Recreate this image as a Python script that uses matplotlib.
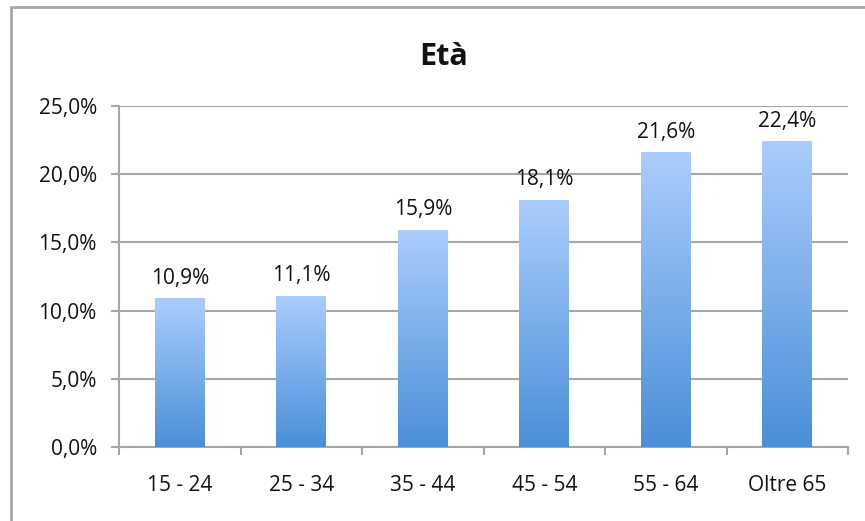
import matplotlib
matplotlib.use("Agg")
import matplotlib.pyplot as plt
import numpy as np
from matplotlib.patches import Rectangle
from matplotlib.colors import LinearSegmentedColormap

categories = ["15 - 24", "25 - 34", "35 - 44", "45 - 54", "55 - 64", "Oltre 65"]
values = [10.9, 11.1, 15.9, 18.1, 21.6, 22.4]
yticks = [0, 5, 10, 15, 20, 25]
title = "Età"

plt.rcParams['font.family'] = ['Open Sans', 'DejaVu Sans']

W, H = 865, 521
fig = plt.figure(figsize=(W/100, H/100), dpi=100)
ax = fig.add_axes([119/W, 1-447/H, (848-119)/W, (447-106)/H])

grid_c = '#a6a6a6'
txt_c = '#111111'
fs = 15
x = np.arange(len(categories))
bars = ax.bar(x, values, width=0.41, color='none', zorder=3)
cmap = LinearSegmentedColormap.from_list('g', ['#4a8fd8', '#abcdfd'])
grad = np.linspace(0, 1, 256).reshape(-1, 1)
for b in bars:
    x0, y0 = b.get_x(), b.get_y()
    w, h = b.get_width(), b.get_height()
    im = ax.imshow(grad, extent=[x0, x0+w, y0, y0+h], origin='lower',
                   cmap=cmap, aspect='auto', zorder=3)
    im.set_clip_path(b)

for xi, v in zip(x, values):
    ax.annotate(f"{v:.1f}%".replace('.', ','), (xi, v), xytext=(0, 7),
                textcoords='offset points', ha='center', va='bottom',
                fontsize=fs, color=txt_c, zorder=4)

ax.set_xlim(-0.5, len(categories)-0.5)
ax.set_ylim(0, 25)
ax.set_yticks(yticks)
ax.set_yticklabels([f"{t:.1f}%".replace('.', ',') for t in yticks], fontsize=fs, color=txt_c)
ax.set_xticks(x)
ax.set_xticklabels(categories, fontsize=fs, color=txt_c)
ax.set_xticks(np.arange(-0.5, len(categories)), minor=True)
ax.tick_params(axis='x', which='major', length=0, pad=20)
ax.tick_params(axis='x', which='minor', length=6, width=1.5, color=grid_c, direction='out')
ax.tick_params(axis='y', length=6, width=1.5, color=grid_c, direction='out', pad=10)
ax.yaxis.grid(True, color=grid_c, linewidth=1.5, zorder=0)
ax.set_axisbelow(True)
for s in ['top', 'right']:
    ax.spines[s].set_visible(False)
for s in ['left', 'bottom']:
    ax.spines[s].set_color(grid_c)
    ax.spines[s].set_linewidth(1.5)

fig.text(444/W, 1-65/H, title, ha='center', va='baseline', fontsize=22,
         fontweight='bold', color=txt_c)

fig.patches.append(Rectangle((10.5/W, -0.05), 1.2, 1 - 7/H + 0.05, transform=fig.transFigure,
                             fill=False, edgecolor='#a6a6a6', linewidth=2))

fig.savefig('out.png', dpi=100)
